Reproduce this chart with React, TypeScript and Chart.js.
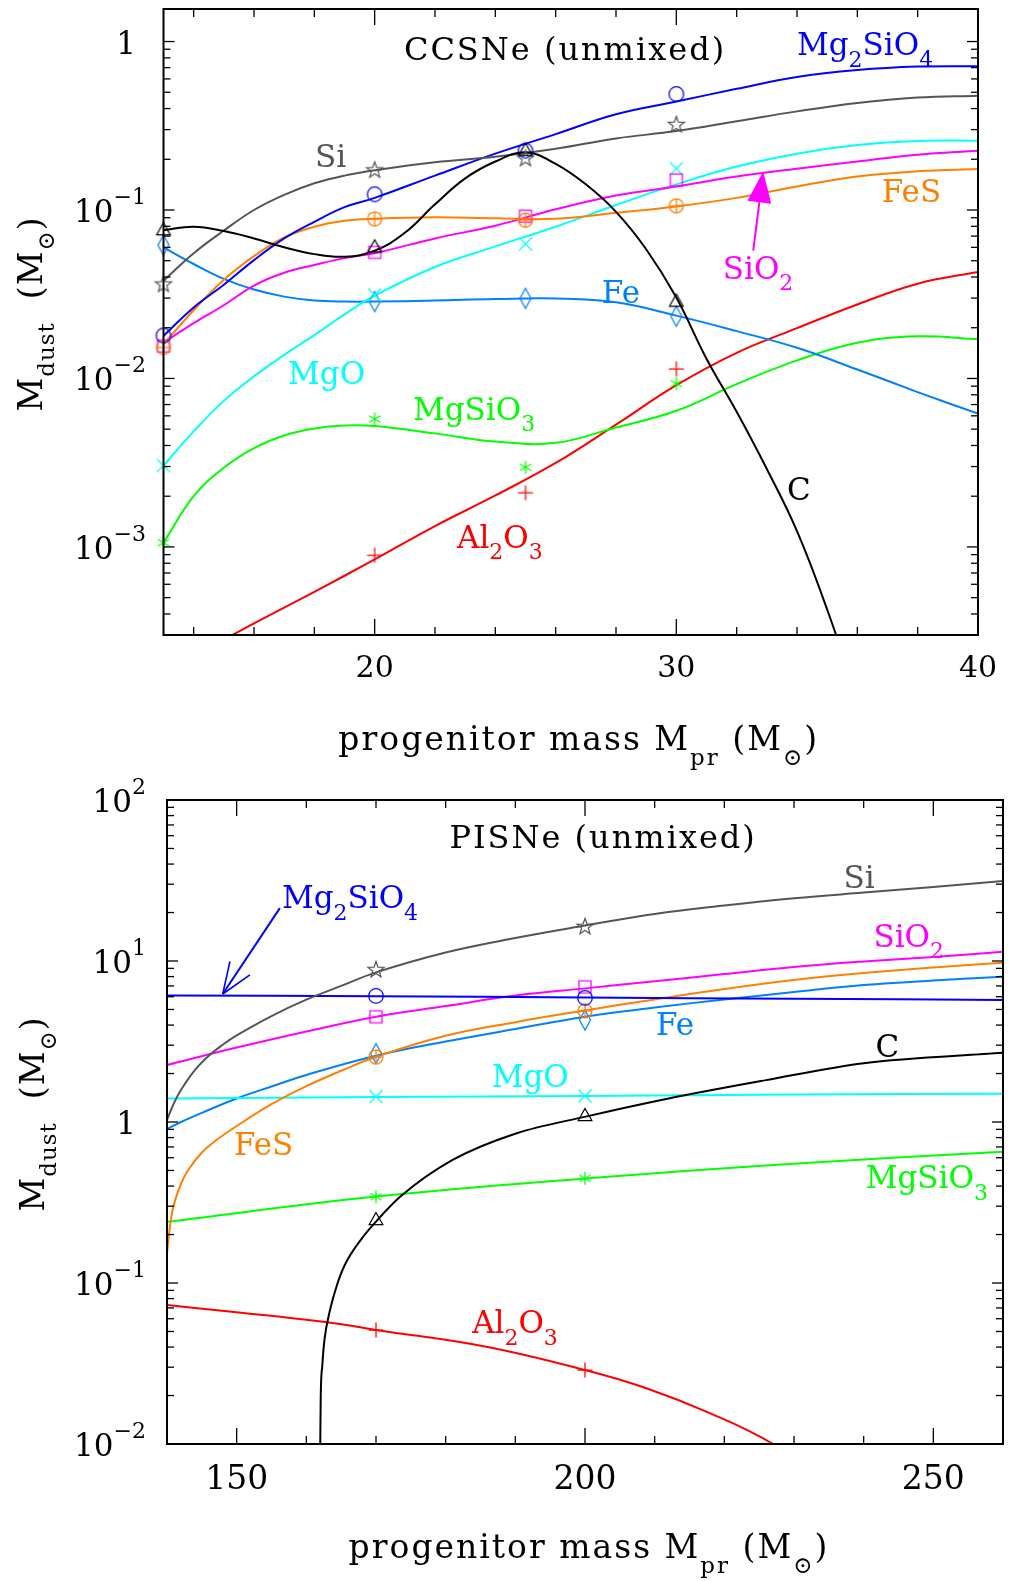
import React, { useEffect, useRef } from 'react';
import { Chart, registerables } from 'chart.js';

Chart.register(...registerables);

const SERIF = '"DejaVu Serif", "Liberation Serif", serif';

// ---------------- colours ----------------
const COLORS: Record<string, string> = {
  C: '#000000',
  Si: '#555555',
  Mg2SiO4: '#0000ff',
  FeS: '#ff8000',
  SiO2: '#ff00ff',
  MgO: '#00ffff',
  Fe: '#0080ff',
  MgSiO3: '#00ff00',
  Al2O3: '#ff0000',
};
const MARKERS: Record<string, string> = {
  C: 'triangle',
  Si: 'star',
  Mg2SiO4: 'circle',
  FeS: 'circleplus',
  SiO2: 'square',
  MgO: 'x',
  Fe: 'diamond',
  MgSiO3: 'asterisk',
  Al2O3: 'plus',
};

// ================= CCSNe (top panel) =================
const CC_MODEL_MASS = [13, 20, 25, 30];
const CC_C_PTS = [0.0759, 0.06, 0.225, 0.0286];
const CC_SI_PTS = [0.0361, 0.172, 0.2015, 0.32];
const CC_MG2SIO4_PTS = [0.018, 0.124, 0.225, 0.488];
const CC_FES_PTS = [0.0153, 0.0887, 0.0871, 0.106];
const CC_SIO2_PTS = [0.0156, 0.0561, 0.092, 0.151];
const CC_MGO_PTS = [0.00304, 0.0313, 0.0628, 0.176];
const CC_FE_PTS = [0.0619, 0.0286, 0.0299, 0.0234];
const CC_MGSIO3_PTS = [0.00106, 0.00575, 0.00297, 0.00933];
const CC_AL2O3_PTS = [null, 0.000893, 0.0021, 0.0114];

const CC_GRID = [13, 14, 15, 16, 17, 18, 19, 20, 22, 24, 26, 28, 30, 32, 34, 36, 38, 40];
const CC_SI_FIT = [0.038, 0.0554, 0.0755, 0.1, 0.123, 0.144, 0.16, 0.172, 0.192, 0.207, 0.231, 0.266, 0.294, 0.336, 0.385, 0.432, 0.465, 0.477];
const CC_MG2SIO4_FIT = [0.01787, 0.0264, 0.036, 0.0504, 0.0678, 0.0851, 0.104, 0.118, 0.16, 0.216, 0.282, 0.37, 0.44, 0.524, 0.616, 0.677, 0.71, 0.714];
const CC_FES_FIT = [0.016, 0.0254, 0.0385, 0.0532, 0.0687, 0.0796, 0.0863, 0.0887, 0.0905, 0.0892, 0.0887, 0.0962, 0.105, 0.118, 0.138, 0.158, 0.17, 0.175];
const CC_SIO2_FIT = [0.01633, 0.0213, 0.0272, 0.0356, 0.0424, 0.0471, 0.0518, 0.0554, 0.0678, 0.0807, 0.101, 0.122, 0.138, 0.158, 0.176, 0.194, 0.213, 0.225];
const CC_MGO_FIT = [0.00304, 0.00485, 0.00736, 0.0103, 0.0138, 0.0181, 0.024, 0.031, 0.0459, 0.0608, 0.0796, 0.107, 0.142, 0.181, 0.216, 0.243, 0.257, 0.258];
const CC_FE_FIT = [0.06, 0.0478, 0.039, 0.0337, 0.0306, 0.029, 0.0286, 0.0286, 0.029, 0.0296, 0.0298, 0.0283, 0.0236, 0.0191, 0.0152, 0.0113, 0.0083, 0.00618];
const CC_MGSIO3_FIT = [0.00106, 0.002, 0.00295, 0.00386, 0.00459, 0.00505, 0.00526, 0.00522, 0.00472, 0.00422, 0.00415, 0.00512, 0.00643, 0.00925, 0.0128, 0.0163, 0.0178, 0.0171];
const CC_AL2O3_X = [13, 14, 16, 18, 20, 22, 24, 26, 28, 30, 32, 34, 36, 38, 40];
const CC_AL2O3_FIT = [0.000182, 0.000225, 0.000352, 0.000541, 0.000843, 0.00133, 0.00202, 0.00315, 0.00532, 0.00912, 0.0142, 0.0199, 0.0275, 0.0365, 0.0429];
const CC_C_X = [13, 14, 15, 16, 17, 18, 19, 20, 21, 22, 23, 24, 25, 26, 27, 28, 29, 30, 31, 32, 33, 34, 35, 36];
const CC_C_FIT = [0.0759, 0.0796, 0.075, 0.0678, 0.0601, 0.0547, 0.0528, 0.0573, 0.0732, 0.108, 0.154, 0.194, 0.22, 0.188, 0.142, 0.0975, 0.0585, 0.0302, 0.0131, 0.00634, 0.0029, 0.00124, 0.000425, 0.000126];

const CC_X_MAJOR = [20, 30, 40];
const CC_X_LABELS = ['20', '30', '40'];
const CC_X_MINOR = [14, 16, 18, 22, 24, 26, 28, 32, 34, 36, 38];
const CC_Y_TICKS = [1e-3, 1e-2, 1e-1, 1];
const CC_Y_LABELS = ['10^{\u22123}', '10^{\u22122}', '10^{\u22121}', '1'];

// ================= PISNe (bottom panel) =================
const PI_MODEL_MASS = [170, 200];
const PI_C_PTS = [0.246, 1.09];
const PI_SI_PTS = [8.79, 16.3];
const PI_MG2SIO4_PTS = [6.07, 5.91];
const PI_FES_PTS = [2.54, 4.91];
const PI_SIO2_PTS = [4.51, 6.92];
const PI_MGO_PTS = [1.44, 1.45];
const PI_FE_PTS = [2.66, 4.3];
const PI_MGSIO3_PTS = [0.344, 0.447];
const PI_AL2O3_PTS = [0.0511, 0.0288];

const PI_MG2SIO4_X = [140, 170, 200, 230, 260];
const PI_MG2SIO4_FIT = [6.11, 6.05, 5.93, 5.83, 5.73];
const PI_SI_X = [140, 141, 142, 144, 146, 148, 150, 155, 160, 165, 170, 180, 190, 200, 210, 220, 230, 240, 250, 260];
const PI_SI_FIT = [1.03, 1.31, 1.58, 2.1, 2.58, 3.02, 3.45, 4.55, 5.75, 7.0, 8.5, 11.3, 13.9, 16.6, 19.6, 22.1, 24.5, 26.6, 28.8, 31.4];
const PI_SIO2_X = [140, 150, 160, 170, 180, 190, 200, 210, 220, 230, 240, 250, 260];
const PI_SIO2_FIT = [2.26, 2.9, 3.65, 4.51, 5.25, 6.1, 6.76, 7.48, 8.3, 9.18, 9.93, 10.6, 11.4];
const PI_FES_X = [140, 140.5, 141, 142, 143, 145, 147, 150, 155, 160, 165, 170, 180, 190, 200, 210, 220, 230, 240, 250, 260];
const PI_FES_FIT = [0.153, 0.237, 0.309, 0.412, 0.5, 0.646, 0.767, 0.944, 1.29, 1.67, 2.08, 2.54, 3.43, 4.17, 4.93, 5.77, 6.7, 7.62, 8.42, 9.12, 9.75];
const PI_FE_X = [140, 142, 145, 150, 155, 160, 170, 180, 190, 200, 210, 220, 230, 240, 250, 260];
const PI_FE_FIT = [0.906, 1.0, 1.14, 1.4, 1.66, 1.96, 2.58, 3.16, 3.78, 4.51, 5.14, 5.77, 6.42, 7.09, 7.57, 7.98];
const PI_MGO_X = [140, 170, 200, 230, 260];
const PI_MGO_FIT = [1.4, 1.43, 1.45, 1.48, 1.5];
const PI_C_X = [161.98, 162.06, 162.3, 162.6, 163.4, 164.4, 165.5, 168, 170.2, 173.5, 181, 190.2, 200.1, 212, 226, 240, 260];
const PI_C_FIT = [0.008, 0.0188, 0.031, 0.0443, 0.068, 0.0972, 0.129, 0.19, 0.246, 0.344, 0.581, 0.851, 1.08, 1.4, 1.82, 2.32, 2.69];
const PI_MGSIO3_X = [140, 170, 200, 227, 260];
const PI_MGSIO3_FIT = [0.24, 0.344, 0.446, 0.541, 0.654];
const PI_AL2O3_X = [140, 162.4, 170, 185.8, 200, 208.8, 218, 227, 232];
const PI_AL2O3_FIT = [0.0729, 0.0575, 0.0511, 0.0402, 0.0288, 0.0222, 0.0155, 0.01, 0.0068];

const PI_X_MAJOR = [150, 200, 250];
const PI_X_LABELS = ['150', '200', '250'];
const PI_X_MINOR = [160, 170, 180, 190, 210, 220, 230, 240];
const PI_Y_TICKS = [1e-2, 1e-1, 1, 10, 100];
const PI_Y_LABELS = ['10^{\u22122}', '10^{\u22121}', '1', '10^{1}', '10^{2}'];

const X_TITLE = 'progenitor mass M_{pr} (M_\u2299)';
const Y_TITLE = 'M_{dust}  (M_\u2299)';

// ---------------- helpers ----------------
type Series = { name: string; fitX: number[]; fitY: number[]; ptsX: number[]; ptsY: (number | null)[]; mono?: boolean };
type Note = { text: string; x: number; y: number; color: string; size?: number; align?: string; spacing?: number };
type Arrow = { from: [number, number]; to: [number, number]; color: string; filled: boolean };
type Panel = {
  id: string;
  xMin: number; xMax: number; yMin: number; yMax: number;
  padding: { left: number; right: number; top: number; bottom: number };
  series: Series[];
  notes: Note[];
  arrows: Arrow[];
  xMajor: number[]; xLabels: string[]; xMinor: number[];
  yTicks: number[]; yLabels: string[];
  xLabelSize: number; xLabelDy: number;
  xTitleDx: number; xTitleDy: number; yTitleX: number;
};

const TOP: Panel = {
  id: 'cc',
  xMin: 13, xMax: 40, yMin: 3.16e-4, yMax: 1.56,
  padding: { left: 163.5, right: 34, top: 3, bottom: 135 },
  series: [
    { name: 'C', fitX: CC_C_X, fitY: CC_C_FIT, ptsX: CC_MODEL_MASS, ptsY: CC_C_PTS },
    { name: 'Si', fitX: CC_GRID, fitY: CC_SI_FIT, ptsX: CC_MODEL_MASS, ptsY: CC_SI_PTS },
    { name: 'Mg2SiO4', fitX: CC_GRID, fitY: CC_MG2SIO4_FIT, ptsX: CC_MODEL_MASS, ptsY: CC_MG2SIO4_PTS },
    { name: 'FeS', fitX: CC_GRID, fitY: CC_FES_FIT, ptsX: CC_MODEL_MASS, ptsY: CC_FES_PTS },
    { name: 'SiO2', fitX: CC_GRID, fitY: CC_SIO2_FIT, ptsX: CC_MODEL_MASS, ptsY: CC_SIO2_PTS },
    { name: 'MgO', fitX: CC_GRID, fitY: CC_MGO_FIT, ptsX: CC_MODEL_MASS, ptsY: CC_MGO_PTS },
    { name: 'Fe', fitX: CC_GRID, fitY: CC_FE_FIT, ptsX: CC_MODEL_MASS, ptsY: CC_FE_PTS },
    { name: 'MgSiO3', fitX: CC_GRID, fitY: CC_MGSIO3_FIT, ptsX: CC_MODEL_MASS, ptsY: CC_MGSIO3_PTS },
    { name: 'Al2O3', fitX: CC_AL2O3_X, fitY: CC_AL2O3_FIT, ptsX: CC_MODEL_MASS, ptsY: CC_AL2O3_PTS },
  ],
  notes: [
    { text: 'CCSNe (unmixed)', x: 26.31, y: 0.774, color: '#000', size: 32, align: 'center', spacing: 2 },
    { text: 'Mg_2SiO_4', x: 34.0, y: 0.828, color: COLORS.Mg2SiO4 },
    { text: 'Si', x: 18.02, y: 0.18, color: COLORS.Si },
    { text: 'FeS', x: 36.81, y: 0.1115, color: COLORS.FeS },
    { text: 'SiO_2', x: 31.54, y: 0.0392, color: COLORS.SiO2 },
    { text: 'Fe', x: 27.53, y: 0.028, color: COLORS.Fe },
    { text: 'MgO', x: 17.13, y: 0.00933, color: COLORS.MgO },
    { text: 'MgSiO_3', x: 21.27, y: 0.0057, color: COLORS.MgSiO3 },
    { text: 'C', x: 33.67, y: 0.0019, color: COLORS.C },
    { text: 'Al_2O_3', x: 22.73, y: 0.000991, color: COLORS.Al2O3 },
  ],
  arrows: [{ from: [32.55, 0.0574], to: [32.88, 0.1693], color: COLORS.SiO2, filled: true }],
  xMajor: CC_X_MAJOR, xLabels: CC_X_LABELS, xMinor: CC_X_MINOR,
  yTicks: CC_Y_TICKS, yLabels: CC_Y_LABELS,
  xLabelSize: 30, xLabelDy: 42,
  xTitleDx: 8, xTitleDy: 115, yTitleX: 42,
};

const BOTTOM: Panel = {
  id: 'pi',
  xMin: 140, xMax: 260, yMin: 0.01, yMax: 100,
  padding: { left: 167, right: 7, top: 30, bottom: 137 },
  series: [
    { name: 'C', fitX: PI_C_X, fitY: PI_C_FIT, ptsX: PI_MODEL_MASS, ptsY: PI_C_PTS, mono: true },
    { name: 'Si', fitX: PI_SI_X, fitY: PI_SI_FIT, ptsX: PI_MODEL_MASS, ptsY: PI_SI_PTS },
    { name: 'Mg2SiO4', fitX: PI_MG2SIO4_X, fitY: PI_MG2SIO4_FIT, ptsX: PI_MODEL_MASS, ptsY: PI_MG2SIO4_PTS },
    { name: 'FeS', fitX: PI_FES_X, fitY: PI_FES_FIT, ptsX: PI_MODEL_MASS, ptsY: PI_FES_PTS },
    { name: 'SiO2', fitX: PI_SIO2_X, fitY: PI_SIO2_FIT, ptsX: PI_MODEL_MASS, ptsY: PI_SIO2_PTS },
    { name: 'MgO', fitX: PI_MGO_X, fitY: PI_MGO_FIT, ptsX: PI_MODEL_MASS, ptsY: PI_MGO_PTS },
    { name: 'Fe', fitX: PI_FE_X, fitY: PI_FE_FIT, ptsX: PI_MODEL_MASS, ptsY: PI_FE_PTS },
    { name: 'MgSiO3', fitX: PI_MGSIO3_X, fitY: PI_MGSIO3_FIT, ptsX: PI_MODEL_MASS, ptsY: PI_MGSIO3_PTS },
    { name: 'Al2O3', fitX: PI_AL2O3_X, fitY: PI_AL2O3_FIT, ptsX: PI_MODEL_MASS, ptsY: PI_AL2O3_PTS },
  ],
  notes: [
    { text: 'PISNe (unmixed)', x: 202.6, y: 50.3, color: '#000', size: 32, align: 'center', spacing: 2 },
    { text: 'Mg_2SiO_4', x: 156.5, y: 21.3, color: COLORS.Mg2SiO4 },
    { text: 'Si', x: 237.1, y: 28.4, color: COLORS.Si },
    { text: 'SiO_2', x: 241.4, y: 12.3, color: COLORS.SiO2 },
    { text: 'Fe', x: 210.2, y: 3.47, color: COLORS.Fe },
    { text: 'C', x: 241.7, y: 2.55, color: COLORS.C },
    { text: 'MgO', x: 186.6, y: 1.66, color: COLORS.MgO },
    { text: 'FeS', x: 149.6, y: 0.624, color: COLORS.FeS },
    { text: 'MgSiO_3', x: 240.3, y: 0.389, color: COLORS.MgSiO3 },
    { text: 'Al_2O_3', x: 183.8, y: 0.0489, color: COLORS.Al2O3 },
  ],
  arrows: [{ from: [156.2, 21.3], to: [148.0, 6.24], color: COLORS.Mg2SiO4, filled: false }],
  xMajor: PI_X_MAJOR, xLabels: PI_X_LABELS, xMinor: PI_X_MINOR,
  yTicks: PI_Y_TICKS, yLabels: PI_Y_LABELS,
  xLabelSize: 33, xLabelDy: 45,
  xTitleDx: 4, xTitleDy: 114, yTitleX: 44,
};

function parseRich(s: string) {
  const out: { t: string; m: number }[] = [];
  let buf = '';
  let i = 0;
  while (i < s.length) {
    const c = s[i];
    if (c === '_' || c === '^') {
      if (buf) { out.push({ t: buf, m: 0 }); buf = ''; }
      const m = c === '_' ? -1 : 1;
      if (s[i + 1] === '{') {
        const j = s.indexOf('}', i + 2);
        out.push({ t: s.slice(i + 2, j), m });
        i = j + 1;
      } else {
        out.push({ t: s[i + 1], m });
        i += 2;
      }
    } else { buf += c; i++; }
  }
  if (buf) out.push({ t: buf, m: 0 });
  return out;
}

function drawRich(ctx: CanvasRenderingContext2D, text: string, x: number, y: number, o: any) {
  const segs = parseRich(text);
  const sc = o.scriptScale ?? 0.7;
  const fontOf = (m: number) => `${m === 0 ? o.size : Math.round(o.size * sc)}px ${SERIF}`;
  ctx.save();
  ctx.fillStyle = o.color;
  ctx.textAlign = 'left';
  ctx.textBaseline = 'alphabetic';
  (ctx as any).letterSpacing = `${o.spacing ?? 0}px`;
  const widths = segs.map((s) => { ctx.font = fontOf(s.m); return ctx.measureText(s.t).width; });
  const total = widths.reduce((a, b) => a + b, 0);
  let cx = o.align === 'center' ? x - total / 2 : o.align === 'right' ? x - total : x;
  segs.forEach((s, i) => {
    ctx.font = fontOf(s.m);
    const dy = s.m === -1 ? o.size * (o.subShift ?? 0.38) : s.m === 1 ? -o.size * (o.supShift ?? 0.58) : 0;
    ctx.fillText(s.t, cx, y + dy);
    cx += widths[i];
  });
  ctx.restore();
}

function drawArrow(ctx: CanvasRenderingContext2D, x0: number, y0: number, x1: number, y1: number, color: string, filled: boolean) {
  const ang = Math.atan2(y1 - y0, x1 - x0);
  const L = 31, W = 12;
  const bx = x1 - L * Math.cos(ang), by = y1 - L * Math.sin(ang);
  const nx = -Math.sin(ang), ny = Math.cos(ang);
  ctx.save();
  ctx.strokeStyle = color; ctx.fillStyle = color; ctx.lineWidth = 2;
  ctx.beginPath(); ctx.moveTo(x0, y0); ctx.lineTo(filled ? bx : x1, filled ? by : y1); ctx.stroke();
  ctx.beginPath();
  ctx.moveTo(x1, y1);
  ctx.lineTo(bx + nx * W, by + ny * W);
  if (filled) { ctx.lineTo(bx - nx * W, by - ny * W); ctx.closePath(); ctx.fill(); }
  else { ctx.moveTo(x1, y1); ctx.lineTo(bx - nx * W, by - ny * W); ctx.lineWidth = 1.6; ctx.stroke(); }
  ctx.restore();
}

function makeMarker(kind: string, color: string): HTMLCanvasElement {
  const c = document.createElement('canvas');
  c.width = 26; c.height = 26;
  const g = c.getContext('2d')!;
  g.translate(13, 13);
  g.strokeStyle = color; g.lineWidth = 1.25;
  g.beginPath();
  switch (kind) {
    case 'triangle': g.moveTo(0, -7.5); g.lineTo(6.8, 4.5); g.lineTo(-6.8, 4.5); g.closePath(); break;
    case 'star':
      for (let k = 0; k < 10; k++) {
        const r = k % 2 === 0 ? 8.5 : 3.5;
        const a = -Math.PI / 2 + (k * Math.PI) / 5;
        if (k === 0) g.moveTo(r * Math.cos(a), r * Math.sin(a)); else g.lineTo(r * Math.cos(a), r * Math.sin(a));
      }
      g.closePath(); break;
    case 'circle': g.arc(0, 0, 7.3, 0, Math.PI * 2); break;
    case 'circleplus': g.arc(0, 0, 7, 0, Math.PI * 2); g.moveTo(-7, 0); g.lineTo(7, 0); g.moveTo(0, -7); g.lineTo(0, 7); break;
    case 'square': g.rect(-6, -6, 12, 12); break;
    case 'diamond': g.moveTo(0, -10); g.lineTo(5.5, 0); g.lineTo(0, 10); g.lineTo(-5.5, 0); g.closePath(); break;
    case 'x': g.moveTo(-6.5, -6.5); g.lineTo(6.5, 6.5); g.moveTo(6.5, -6.5); g.lineTo(-6.5, 6.5); break;
    case 'asterisk':
      for (const d of [90, 30, -30]) {
        const r = (d * Math.PI) / 180;
        g.moveTo(-6.5 * Math.cos(r), -6.5 * Math.sin(r)); g.lineTo(6.5 * Math.cos(r), 6.5 * Math.sin(r));
      }
      break;
    case 'plus': g.moveTo(-7.5, 0); g.lineTo(7.5, 0); g.moveTo(0, -7.5); g.lineTo(0, 7.5); break;
  }
  g.stroke();
  return c;
}

function decorPlugin(p: Panel) {
  return {
    id: 'decor_' + p.id,
    afterDatasetsDraw(chart: any) {
      const ctx: CanvasRenderingContext2D = chart.ctx;
      const a = chart.chartArea;
      const sx = chart.scales.x, sy = chart.scales.y;
      ctx.save();
      for (const ar of p.arrows) {
        drawArrow(ctx, sx.getPixelForValue(ar.from[0]), sy.getPixelForValue(ar.from[1]),
          sx.getPixelForValue(ar.to[0]), sy.getPixelForValue(ar.to[1]), ar.color, ar.filled);
      }
      for (const n of p.notes) {
        drawRich(ctx, n.text, sx.getPixelForValue(n.x), sy.getPixelForValue(n.y),
          { size: n.size ?? 31, color: n.color, align: n.align ?? 'left', spacing: n.spacing ?? 0, subShift: 0.38 });
      }
      // frame
      ctx.strokeStyle = '#000';
      ctx.lineWidth = 2;
      ctx.strokeRect(a.left, a.top, a.right - a.left, a.bottom - a.top);
      ctx.lineWidth = 1.3;
      const seg = (x0: number, y0: number, x1: number, y1: number) => { ctx.beginPath(); ctx.moveTo(x0, y0); ctx.lineTo(x1, y1); ctx.stroke(); };
      for (const v of p.xMinor) { const px = sx.getPixelForValue(v); seg(px, a.bottom, px, a.bottom - 8); seg(px, a.top, px, a.top + 8); }
      for (const v of p.xMajor) { const px = sx.getPixelForValue(v); seg(px, a.bottom, px, a.bottom - 16); seg(px, a.top, px, a.top + 16); }
      const lo = Math.floor(Math.log10(p.yMin)), hi = Math.ceil(Math.log10(p.yMax));
      for (let k = lo; k <= hi; k++) {
        for (let m = 1; m <= 9; m++) {
          const v = m * Math.pow(10, k);
          if (v < p.yMin * 0.999 || v > p.yMax * 1.001) continue;
          const len = m === 1 ? 11 : 7;
          const py = sy.getPixelForValue(v);
          seg(a.left, py, a.left + len, py); seg(a.right, py, a.right - len, py);
        }
      }
      // tick labels
      p.xMajor.forEach((v, i) => drawRich(ctx, p.xLabels[i], sx.getPixelForValue(v), a.bottom + p.xLabelDy, { size: p.xLabelSize, color: '#000', align: 'center' }));
      p.yTicks.forEach((v, i) => {
        const lab = p.yLabels[i];
        drawRich(ctx, lab, lab.includes('^') ? 146 : 136, sy.getPixelForValue(v) + 12, { size: 31, color: '#000', align: 'right', supShift: 0.58 });
      });
      // axis titles
      drawRich(ctx, X_TITLE, (a.left + a.right) / 2 + p.xTitleDx, a.bottom + p.xTitleDy, { size: 33, color: '#000', align: 'center', spacing: 2, subShift: 0.45 });
      ctx.save();
      ctx.translate(p.yTitleX, (a.top + a.bottom) / 2 - 8);
      ctx.rotate(-Math.PI / 2);
      drawRich(ctx, Y_TITLE, 0, 0, { size: 33, color: '#000', align: 'center', spacing: 1, subShift: 0.35 });
      ctx.restore();
      ctx.restore();
    },
  };
}

function buildChart(canvas: HTMLCanvasElement, p: Panel) {
  const datasets: any[] = [];
  p.series.forEach((s) => {
    const pts = s.ptsX.map((x, i) => ({ x, y: s.ptsY[i] })).filter((q) => q.y !== null);
    datasets.push({
      label: s.name + ' (models)', data: pts, showLine: false,
      pointStyle: makeMarker(MARKERS[s.name], COLORS[s.name]),
      pointRadius: 8, pointHoverRadius: 8, clip: false, order: 0,
    });
  });
  p.series.forEach((s) => {
    datasets.push({
      label: s.name, data: s.fitX.map((x, i) => ({ x, y: s.fitY[i] })), showLine: true,
      borderColor: COLORS[s.name], borderWidth: 2, pointRadius: 0, pointHoverRadius: 0,
      cubicInterpolationMode: s.mono ? 'monotone' : 'default', tension: 0.4, fill: false, order: 1,
    });
  });
  return new Chart(canvas, {
    type: 'scatter',
    data: { datasets },
    options: {
      responsive: false,
      animation: false,
      devicePixelRatio: 1,
      events: [],
      layout: { padding: p.padding },
      plugins: { legend: { display: false }, tooltip: { enabled: false } },
      scales: {
        x: { type: 'linear', min: p.xMin, max: p.xMax, display: false },
        y: { type: 'logarithmic', min: p.yMin, max: p.yMax, display: false },
      },
    } as any,
    plugins: [decorPlugin(p) as any],
  });
}

export default function App() {
  const topRef = useRef<HTMLCanvasElement>(null);
  const botRef = useRef<HTMLCanvasElement>(null);
  useEffect(() => {
    const c1 = buildChart(topRef.current!, TOP);
    const c2 = buildChart(botRef.current!, BOTTOM);
    return () => { c1.destroy(); c2.destroy(); };
  }, []);
  return (
    <div style={{ position: 'absolute', left: 0, top: 0, width: 1012, height: 1581, background: '#fff' }}>
      <canvas ref={topRef} width={1012} height={770} style={{ position: 'absolute', left: 0, top: 0, width: 1012, height: 770 }} />
      <canvas ref={botRef} width={1012} height={811} style={{ position: 'absolute', left: 0, top: 770, width: 1012, height: 811 }} />
    </div>
  );
}
